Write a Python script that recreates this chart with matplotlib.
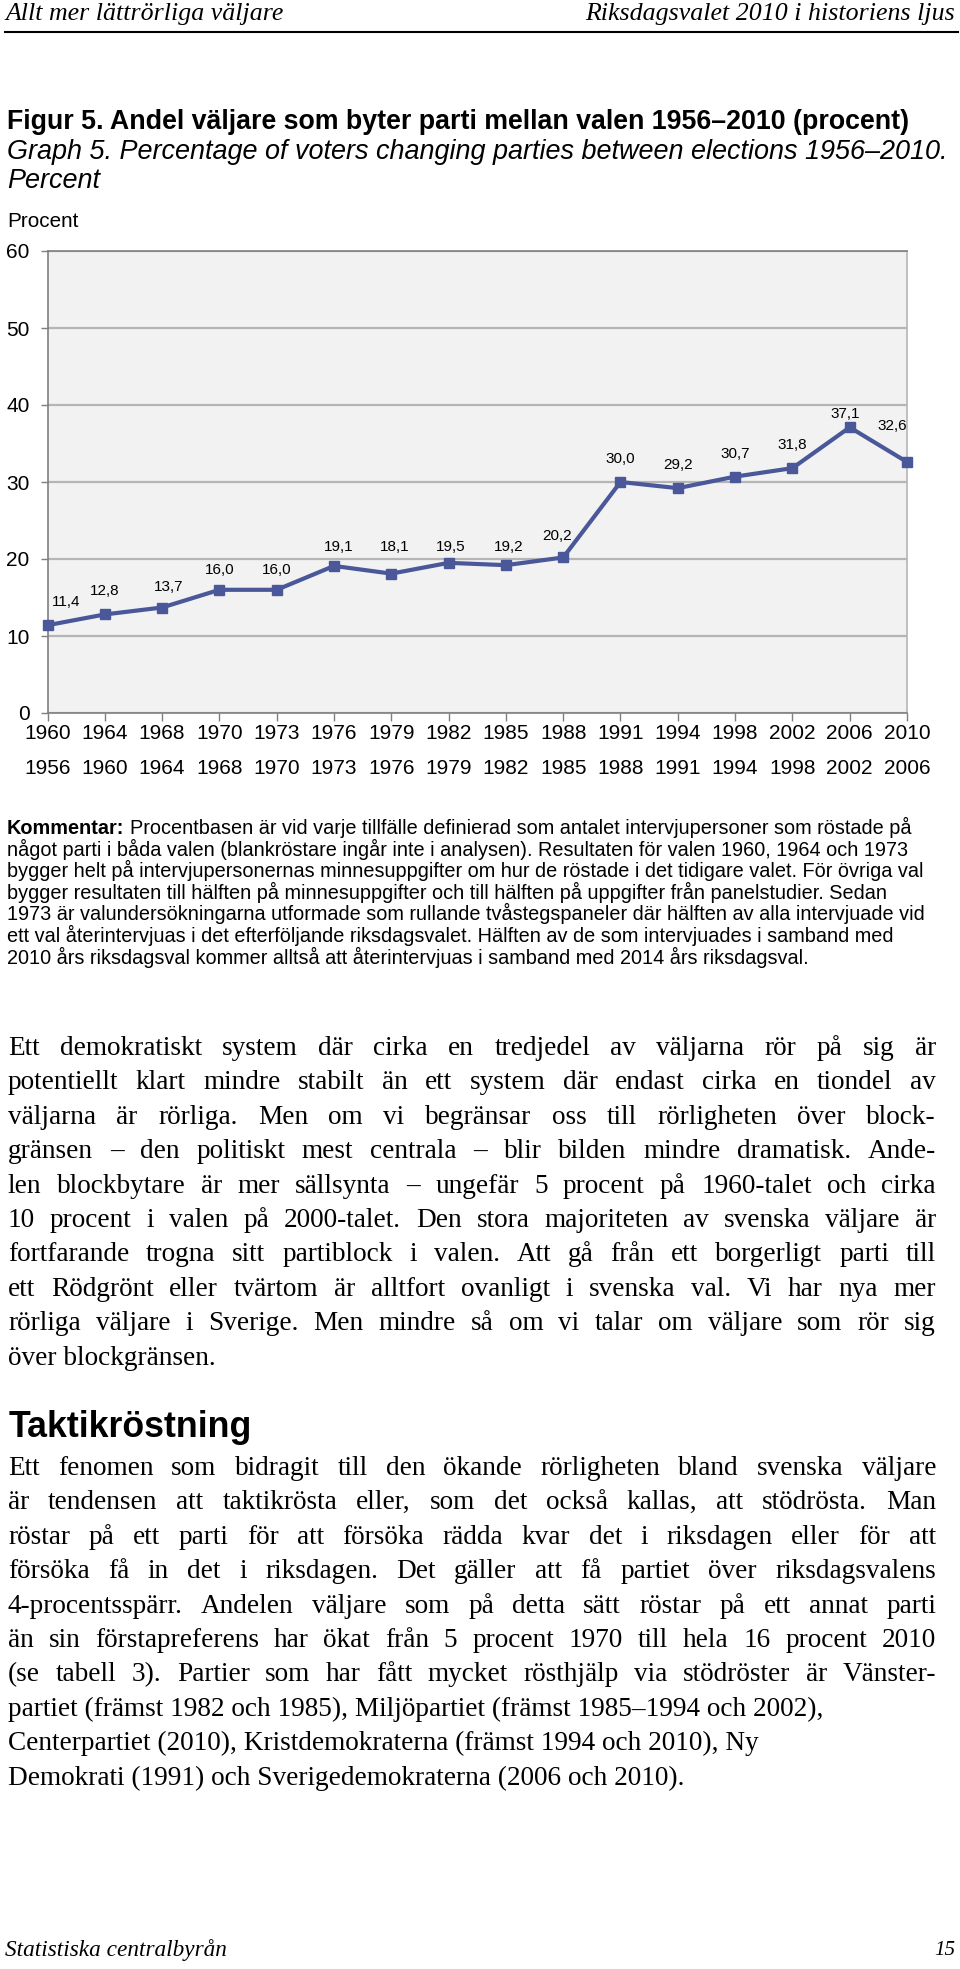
import matplotlib
matplotlib.use("Agg")
import matplotlib.pyplot as plt
from matplotlib.transforms import blended_transform_factory

W, H = 960, 1969

# ---- data ----
val_ar = ["1960", "1964", "1968", "1970", "1973", "1976", "1979", "1982",
          "1985", "1988", "1991", "1994", "1998", "2002", "2006", "2010"]
foreg_val = ["1956", "1960", "1964", "1968", "1970", "1973", "1976", "1979",
             "1982", "1985", "1988", "1991", "1994", "1998", "2002", "2006"]
andel = [11.4, 12.8, 13.7, 16.0, 16.0, 19.1, 18.1, 19.5,
         19.2, 20.2, 30.0, 29.2, 30.7, 31.8, 37.1, 32.6]
y_ticks = [0, 10, 20, 30, 40, 50, 60]

header_left = "Allt mer lättrörliga väljare"
header_right = "Riksdagsvalet 2010 i historiens ljus"
footer_left = "Statistiska centralbyrån"
footer_right = "15"
titel = "Figur 5. Andel väljare som byter parti mellan valen 1956–2010 (procent)"
titel_en = "Graph 5. Percentage of voters changing parties between elections 1956–2010."
titel_en2 = "Percent"
y_label = "Procent"

kommentar = [
    "Procentbasen är vid varje tillfälle definierad som antalet intervjupersoner som röstade på",
    "något parti i båda valen (blankröstare ingår inte i analysen). Resultaten för valen 1960, 1964 och 1973",
    "bygger helt på intervjupersonernas minnesuppgifter om hur de röstade i det tidigare valet. För övriga val",
    "bygger resultaten till hälften på minnesuppgifter och till hälften på uppgifter från panelstudier. Sedan",
    "1973 är valundersökningarna utformade som rullande tvåstegspaneler där hälften av alla intervjuade vid",
    "ett val återintervjuas i det efterföljande riksdagsvalet. Hälften av de som intervjuades i samband med",
    "2010 års riksdagsval kommer alltså att återintervjuas i samband med 2014 års riksdagsval.",
]

stycke1 = [
    "Ett demokratiskt system där cirka en tredjedel av väljarna rör på sig är",
    "potentiellt klart mindre stabilt än ett system där endast cirka en tiondel av",
    "väljarna är rörliga. Men om vi begränsar oss till rörligheten över block-",
    "gränsen – den politiskt mest centrala – blir bilden mindre dramatisk. Ande-",
    "len blockbytare är mer sällsynta – ungefär 5 procent på 1960-talet och cirka",
    "10 procent i valen på 2000-talet. Den stora majoriteten av svenska väljare är",
    "fortfarande trogna sitt partiblock i valen. Att gå från ett borgerligt parti till",
    "ett Rödgrönt eller tvärtom är alltfort ovanligt i svenska val. Vi har nya mer",
    "rörliga väljare i Sverige. Men mindre så om vi talar om väljare som rör sig",
    "över blockgränsen.",
]
rubrik = "Taktikröstning"
stycke2 = [
    "Ett fenomen som bidragit till den ökande rörligheten bland svenska väljare",
    "är tendensen att taktikrösta eller, som det också kallas, att stödrösta. Man",
    "röstar på ett parti för att försöka rädda kvar det i riksdagen eller för att",
    "försöka få in det i riksdagen. Det gäller att få partiet över riksdagsvalens",
    "4-procentsspärr. Andelen väljare som på detta sätt röstar på ett annat parti",
    "än sin förstapreferens har ökat från 5 procent 1970 till hela 16 procent 2010",
    "(se tabell 3). Partier som har fått mycket rösthjälp via stödröster är Vänster-",
    "partiet (främst 1982 och 1985), Miljöpartiet (främst 1985–1994 och 2002),",
    "Centerpartiet (2010), Kristdemokraterna (främst 1994 och 2010), Ny",
    "Demokrati (1991) och Sverigedemokraterna (2006 och 2010).",
]
ojusterade2 = {7, 8, 9}

SANS = ["Liberation Sans", "DejaVu Sans"]
SERIF = ["Liberation Serif", "DejaVu Serif"]
LINE_COLOR = "#4A5899"

fig = plt.figure(figsize=(W / 100, H / 100), dpi=100)
page = fig.add_axes([0, 0, 1, 1])
page.set_xlim(0, W)
page.set_ylim(H, 0)
page.axis("off")
renderer = fig.canvas.get_renderer()


def width_of(t):
    return t.get_window_extent(renderer).width


def fit_text(x, y, s, width, ha="left", va="center", **kw):
    t = page.text(x, y, s, ha=ha, va=va, fontsize=20, **kw)
    t.set_fontsize(20 * width / width_of(t))
    return t


def justify(x0, x1, y, line, **kw):
    words = line.split(" ")
    objs = [page.text(0, y, w, va="baseline", **kw) for w in words]
    widths = [width_of(o) for o in objs]
    gap = (x1 - x0 - sum(widths)) / max(len(words) - 1, 1)
    x = x0
    for o, w in zip(objs, widths):
        o.set_x(x)
        x += w + gap


# ---- header / footer ----
fit_text(5, 14, header_left, 277, family=SERIF, style="italic")
fit_text(955, 14, header_right, 368, ha="right", family=SERIF, style="italic")
page.plot([5, 958], [32, 32], color="black", lw=1.5)
fit_text(5, 1950, footer_left, 222, family=SERIF, style="italic")
fit_text(955, 1950, footer_right, 21, ha="right", family=SERIF, style="italic")

# ---- titles ----
fit_text(7, 122, titel, 904, family=SANS, weight="bold")
t_en = fit_text(7, 152, titel_en, 939, family=SANS, style="italic")
page.text(7, 181, titel_en2, va="center", family=SANS, style="italic",
          fontsize=t_en.get_fontsize())
fit_text(7, 221, y_label, 71, family=SANS)

# ---- chart ----
X0, X1, Y60, Y0 = 47.5, 907, 251, 713
ax = fig.add_axes([X0 / W, 1 - Y0 / H, (X1 - X0) / W, (Y0 - Y60) / H])
ax.set_facecolor("#F2F2F2")
n = len(andel)
ax.set_xlim(0, n - 1)
ax.set_ylim(0, 60)
ax.set_yticks(y_ticks)
ax.set_yticklabels([str(v) for v in y_ticks], family=SANS, fontsize=15)
ax.set_xticks(range(n))
ax.set_xticklabels([])
ax.grid(axis="y", color="#B5B5B5", lw=1.6)
ax.set_axisbelow(True)
ax.tick_params(axis="y", length=5, width=1, color="#7F7F7F", pad=8)
ax.tick_params(axis="x", length=6, width=1, color="#7F7F7F")
ax.spines["left"].set_color("#7F7F7F")
ax.spines["top"].set_color("#7F7F7F")
ax.spines["bottom"].set_color("#7F7F7F")
ax.spines["right"].set_color("#B5B5B5")
for sp in ax.spines.values():
    sp.set_linewidth(1.2)

ax.plot(range(n), andel, color=LINE_COLOR, lw=3.0, marker="s", ms=6.8,
        clip_on=False, zorder=3)

# label placement as in the original (pixels, up is positive)
label_nudge = {0: (19, 23.5), 2: (7, 21), 3: (0, 20), 4: (0, 20), 5: (5, 18.6),
               6: (3, 26.3), 7: (2, 15.6), 8: (3, 18), 9: (-6, 21.5),
               14: (-4, 13.3), 15: (-15, 36)}
for i, v in enumerate(andel):
    ax.annotate(f"{v:.1f}".replace(".", ","), (i, v),
                xytext=label_nudge.get(i, (0, 23)), textcoords="offset pixels",
                ha="center", va="center", fontsize=11, family=SANS)

tr = blended_transform_factory(ax.transData, page.transData)
for i in range(n):
    ax.text(i, 733, val_ar[i], transform=tr, ha="center", va="center",
            fontsize=15, family=SANS)
    ax.text(i, 768, foreg_val[i], transform=tr, ha="center", va="center",
            fontsize=15, family=SANS)

# ---- kommentar ----
k_size = 20
probe = page.text(0, 0, kommentar[4], fontsize=k_size, family=SANS)
k_size = k_size * 910 / width_of(probe)
probe.remove()
k_y = 834
bold = page.text(7, k_y, "Kommentar:", va="baseline", fontsize=k_size,
                 family=SANS, weight="bold")
sp = page.text(0, 0, "x x", fontsize=k_size, family=SANS)
sp2 = page.text(0, 0, "xx", fontsize=k_size, family=SANS)
space_w = width_of(sp) - width_of(sp2)
sp.remove()
sp2.remove()
page.text(7 + width_of(bold) + space_w, k_y, kommentar[0], va="baseline",
          fontsize=k_size, family=SANS)
for k, line in enumerate(kommentar[1:], start=1):
    page.text(7, k_y + k * 21.6, line, va="baseline", fontsize=k_size, family=SANS)

# ---- body text ----
body_fs = 19.6
lead = 34.4
for k, line in enumerate(stycke1):
    y = 1055 + k * lead
    if k == len(stycke1) - 1:
        page.text(8, y, line, va="baseline", fontsize=body_fs, family=SERIF)
    else:
        justify(8, 936, y, line, fontsize=body_fs, family=SERIF)

fit_text(9, 1427, rubrik, 243, family=SANS, weight="bold")

for k, line in enumerate(stycke2):
    y = 1475 + k * lead
    if k in ojusterade2:
        page.text(8, y, line, va="baseline", fontsize=body_fs, family=SERIF)
    else:
        justify(8, 936, y, line, fontsize=body_fs, family=SERIF)

fig.savefig("out.png", dpi=100, facecolor="white")
